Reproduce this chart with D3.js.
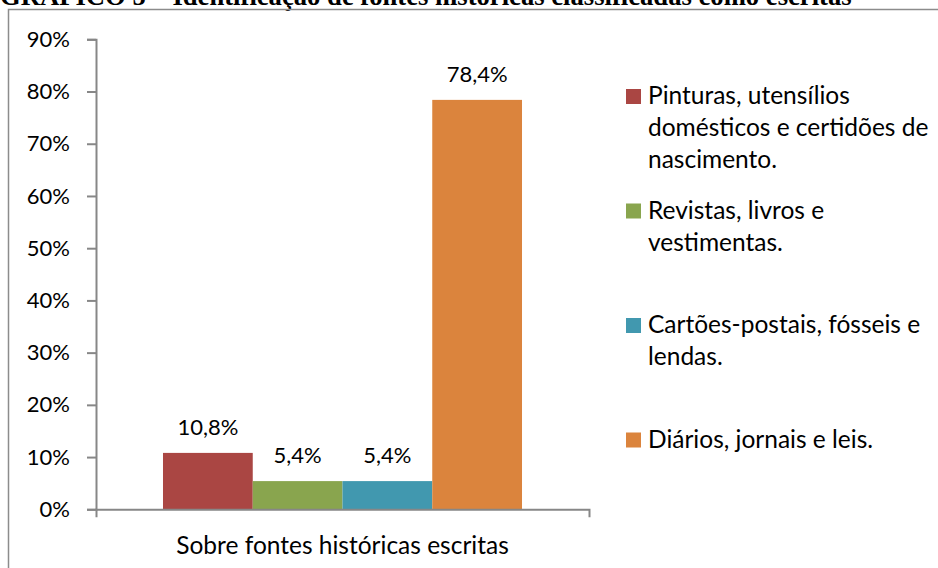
<!DOCTYPE html>
<html>
<head>
<meta charset="utf-8">
<script src="https://cdn.jsdelivr.net/npm/d3@7"></script>
<style>
  html, body { margin: 0; padding: 0; background: #fff; }
  svg { display: block; }
</style>
</head>
<body>
<script>
const width = 938;
const height = 568;

// data
const categories = ["Sobre fontes históricas escritas"];
const seriesNames = [
  ["Pinturas, utensílios", "domésticos e certidões de", "nascimento."],
  ["Revistas, livros e", "vestimentas."],
  ["Cartões-postais, fósseis e", "lendas."],
  ["Diários, jornais e leis."]
];
const seriesValues = [10.8, 5.4, 5.4, 78.4];
const seriesColors = ["#AA4643", "#89A54E", "#4198AF", "#DB843D"];
const yTicks = [0, 10, 20, 30, 40, 50, 60, 70, 80, 90];
const title = "GRÁFICO 5 – Identificação de fontes históricas classificadas como escritas";

const font = "Lato, 'Open Sans', sans-serif";

const svg = d3.select("body")
  .append("svg")
  .attr("width", width)
  .attr("height", height);

svg.append("rect")
  .attr("width", width)
  .attr("height", height)
  .attr("fill", "#fff");

// title, cut by the top edge as in the source
const titleText = svg.append("text")
  .attr("x", 0)
  .attr("y", 5)
  .style("font-family", "'Liberation Serif', 'Times New Roman', serif")
  .style("font-weight", "bold")
  .style("font-size", "21px")
  .attr("fill", "#000")
  .text(title);
const tw = titleText.node().getComputedTextLength();
titleText.style("font-size", (21 * 852 / tw) + "px");

// chart frame
svg.append("rect")
  .attr("x", 8.5)
  .attr("y", 9.5)
  .attr("width", 1000)
  .attr("height", 1000)
  .attr("fill", "none")
  .attr("stroke", "#8c8c8c")
  .attr("stroke-width", 1.5);

const plot = { left: 96, right: 589, top: 39.3, bottom: 509.3 };

const y = d3.scaleLinear()
  .domain([0, 90])
  .range([plot.bottom, plot.top]);

const x0 = d3.scaleBand()
  .domain(categories)
  .range([plot.left, plot.right])
  .paddingInner(0)
  .paddingOuter(0.1866);

const x1 = d3.scaleBand()
  .domain(d3.range(seriesValues.length))
  .range([0, x0.bandwidth()])
  .padding(0);

// y axis
const yAxis = svg.append("g")
  .attr("transform", `translate(${plot.left},0)`)
  .call(d3.axisLeft(y).tickValues(yTicks).tickSize(9).tickPadding(17)
    .tickFormat(d => d + "%"));
yAxis.select(".domain").attr("stroke", "#878787").attr("stroke-width", 2);
yAxis.selectAll(".tick line").attr("stroke", "#878787").attr("stroke-width", 2);
yAxis.selectAll(".tick text")
  .style("font-family", font)
  .style("font-size", "22px")
  .attr("fill", "#000");

// bars
const g = svg.append("g")
  .attr("transform", `translate(${x0(categories[0])},0)`);

g.selectAll("rect")
  .data(seriesValues)
  .join("rect")
  .attr("x", (d, i) => x1(i))
  .attr("y", d => y(d))
  .attr("width", x1.bandwidth())
  .attr("height", d => y(0) - y(d))
  .attr("fill", (d, i) => seriesColors[i]);

g.selectAll("text.val")
  .data(seriesValues)
  .join("text")
  .attr("class", "val")
  .attr("x", (d, i) => x1(i) + x1.bandwidth() / 2)
  .attr("y", d => y(d) - 18)
  .attr("text-anchor", "middle")
  .style("font-family", font)
  .style("font-size", "22px")
  .attr("fill", "#000")
  .text(d => d.toFixed(1).replace(".", ",") + "%");

// x axis
const xAxis = svg.append("g")
  .attr("transform", `translate(0,${plot.bottom})`)
  .call(d3.axisBottom(x0).tickSize(0).tickPadding(27).tickSizeOuter(8));
xAxis.select(".domain").attr("stroke", "#878787").attr("stroke-width", 2);
xAxis.selectAll(".tick text")
  .style("font-family", font)
  .style("font-size", "24.5px")
  .attr("fill", "#000");

// legend
const legendTop = 89;
const legendStep = 114.5;
const legend = svg.append("g");
seriesNames.forEach((lines, i) => {
  const ly = legendTop + i * legendStep;
  legend.append("rect")
    .attr("x", 626)
    .attr("y", ly)
    .attr("width", 15)
    .attr("height", 15)
    .attr("fill", seriesColors[i]);
  const t = legend.append("text")
    .style("font-family", font)
    .style("font-size", "24.5px")
    .attr("fill", "#000");
  lines.forEach((line, j) => {
    t.append("tspan")
      .attr("x", 648)
      .attr("y", ly + 15 + j * 32)
      .text(line);
  });
});
</script>
</body>
</html>
